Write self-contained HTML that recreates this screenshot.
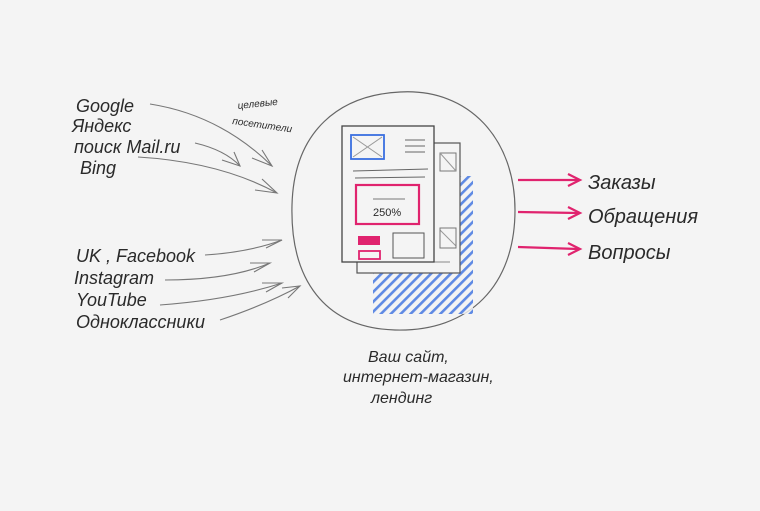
<!DOCTYPE html>
<html><head><meta charset="utf-8"><style>
html,body{margin:0;padding:0;background:#f4f4f4;}
svg{display:block}
text{font-family:"Liberation Sans","DejaVu Sans",sans-serif;fill:#2a2a2a;font-style:italic}
</style></head><body>
<svg width="760" height="511" viewBox="0 0 760 511" xmlns="http://www.w3.org/2000/svg">
<defs>
<pattern id="h" width="7" height="7" patternUnits="userSpaceOnUse" patternTransform="rotate(45)">
<rect width="7" height="7" fill="#f4f4f4"/><rect width="2.6" height="7" fill="#3a6fe0"/></pattern>
</defs>
<rect width="760" height="511" fill="#f4f4f4"/>
<path d="M400 92 C470 88 515 140 515 210 C515 285 470 332 395 330 C325 328 290 280 292 205 C294 130 340 95 400 92 Z" fill="none" stroke="#666" stroke-width="1.2"/>
<rect x="373" y="176" width="100" height="138" fill="url(#h)" opacity="0.8"/>
<rect x="357" y="143" width="103" height="130" fill="#f4f4f4" stroke="#555" stroke-width="1.2"/>
<rect x="440" y="153" width="16" height="18" fill="none" stroke="#777"/>
<line x1="440" y1="153" x2="456" y2="171" stroke="#999"/>
<line x1="440" y1="230" x2="456" y2="246" stroke="#999"/>
<rect x="440" y="228" width="16" height="20" fill="none" stroke="#777"/>
<line x1="368" y1="262" x2="450" y2="262" stroke="#888"/>
<rect x="342" y="126" width="92" height="136" fill="#f4f4f4" stroke="#444" stroke-width="1.3"/>
<rect x="351" y="135" width="33" height="24" fill="none" stroke="#3a6fe0" stroke-width="1.8"/>
<line x1="353" y1="137" x2="382" y2="157" stroke="#999"/><line x1="382" y1="137" x2="353" y2="157" stroke="#999"/>
<g stroke="#666"><line x1="405" y1="140" x2="425" y2="140"/><line x1="405" y1="146" x2="425" y2="146"/><line x1="405" y1="152" x2="425" y2="152"/>
<line x1="353" y1="171" x2="428" y2="169"/><line x1="355" y1="178" x2="425" y2="177"/></g>
<rect x="356" y="185" width="63" height="39" fill="none" stroke="#e0236e" stroke-width="2.2"/>
<line x1="373" y1="199" x2="405" y2="199" stroke="#777"/>
<text x="373" y="216" font-size="11" style="font-style:normal">250%</text>
<rect x="358" y="236" width="22" height="9" fill="#e0236e"/>
<rect x="359" y="251" width="21" height="8" fill="none" stroke="#e0236e" stroke-width="1.8"/>
<rect x="393" y="233" width="31" height="25" fill="none" stroke="#555"/>
<g font-size="18">
<text x="76" y="112">Google</text>
<text x="72" y="132">Яндекс</text>
<text x="74" y="153">поиск Mail.ru</text>
<text x="80" y="174">Bing</text>
<text x="76" y="262">UK , Facebook</text>
<text x="74" y="284">Instagram</text>
<text x="76" y="306">YouTube</text>
<text x="76" y="328">Одноклассники</text>
</g>
<text x="238" y="109" font-size="10" transform="rotate(-6 238 109)">целевые</text>
<text x="232" y="124" font-size="10" transform="rotate(8 232 124)">посетители</text>
<g fill="none" stroke="#777" stroke-width="1.1">
<path d="M150 104 Q220 115 272 166"/><path d="M252 158 L272 166 L262 150"/>
<path d="M195 143 Q225 150 240 166"/><path d="M222 160 L240 166 L234 152"/>
<path d="M138 157 Q220 162 277 193"/><path d="M255 190 L277 193 L262 179"/>
<path d="M205 255 Q250 252 282 240"/><path d="M262 240 L282 240 L266 248"/>
<path d="M165 280 Q230 280 270 263"/><path d="M250 263 L270 263 L254 272"/>
<path d="M160 305 Q230 300 282 283"/><path d="M262 283 L282 283 L266 292"/>
<path d="M220 320 Q265 305 300 286"/><path d="M282 288 L300 286 L288 298"/>
</g>
<g stroke="#e0236e" stroke-width="2.2" fill="none">
<line x1="518" y1="180" x2="578" y2="180"/><path d="M568 174 L580 180 L568 186"/>
<line x1="518" y1="212" x2="578" y2="213"/><path d="M568 207 L580 213 L568 219"/>
<line x1="518" y1="247" x2="578" y2="249"/><path d="M568 243 L580 249 L568 255"/>
</g>
<g font-size="20">
<text x="588" y="189">Заказы</text>
<text x="588" y="223">Обращения</text>
<text x="588" y="259">Вопросы</text>
</g>
<g font-size="16">
<text x="368" y="362">Ваш сайт,</text>
<text x="343" y="382">интернет-магазин,</text>
<text x="371" y="403">лендинг</text>
</g>
</svg>
</body></html>
